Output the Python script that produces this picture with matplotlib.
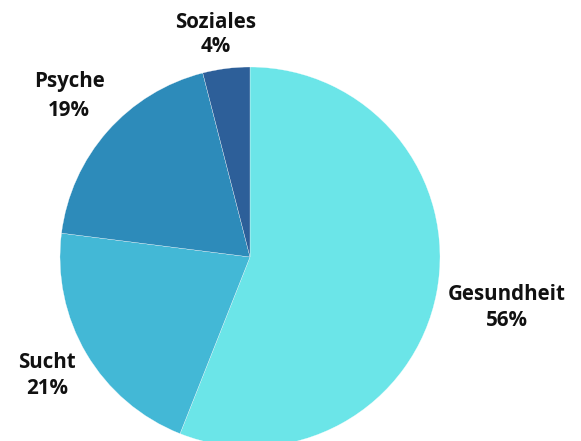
import matplotlib.pyplot as plt

labels = ["Gesundheit", "Sucht", "Psyche", "Soziales"]
values = [56, 21, 19, 4]
colors = ["#6be5e8", "#43b8d6", "#2d8bba", "#2d5f99"]

# label anchor (center of name line / percent line) in pixels from top-left
label_pos = {
    "Gesundheit": ((507, 294), (507, 320)),
    "Sucht": ((47, 362), (47, 389)),
    "Psyche": ((69, 81), (69, 110)),
    "Soziales": ((216, 22), (216, 47)),
}

W, H = 581, 441
cx, cy, r = 250, 257, 190

fig = plt.figure(figsize=(W / 100, H / 100), dpi=100)
ax = fig.add_axes([0, 0, 1, 1])
ax.pie(values, colors=colors, startangle=90, counterclock=False, radius=1,
       wedgeprops=dict(edgecolor="#ffffff", linewidth=0.2), frame=False)
ax.set_xlim(-cx / r, (W - cx) / r)
ax.set_ylim(-(H - cy) / r, cy / r)
ax.set_aspect("equal")
ax.axis("off")


def to_data(px, py):
    return (px - cx) / r, (cy - py) / r


for name, val in zip(labels, values):
    (nx, ny), (vx, vy) = label_pos[name]
    ax.text(*to_data(nx, ny), name, ha="center", va="center", fontsize=14.8,
            fontweight="bold", family="Open Sans", color="#111111")
    ax.text(*to_data(vx, vy), f"{val}%", ha="center", va="center", fontsize=14.8,
            fontweight="bold", family="Open Sans", color="#111111")

fig.savefig("out.png", dpi=100)
